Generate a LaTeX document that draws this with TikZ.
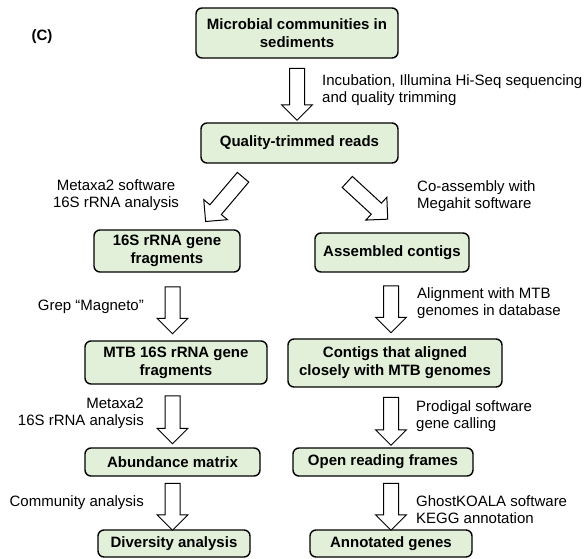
\documentclass[tikz,border=0pt]{standalone}
\usepackage{fontspec}
\setmainfont{Liberation Sans}
\usetikzlibrary{shapes.arrows,calc}
\definecolor{boxgreen}{HTML}{E2EFD9}
\tikzset{
  stepbox/.style={draw=black, line width=1.4pt, rounded corners=6pt, fill=boxgreen,
    align=center, inner sep=2pt, font=\fontsize{15}{18}\selectfont\bfseries},
  blockarrow/.style={single arrow, draw=black, line width=1pt, fill=white,
    inner xsep=0pt, inner ysep=7pt, single arrow head extend=8pt,
    minimum height=#1, sloped, allow upside down},
  steplabel/.style={inner sep=0pt, font=\fontsize{15}{17}\selectfont}
}
\begin{document}
\begin{tikzpicture}[x=1pt,y=-1pt]
      \useasboundingbox (0,0) rectangle (587,558);
      \node[inner sep=0pt, font=\fontsize{15}{18}\selectfont\bfseries] (panel) at (42,37) {(C)};
      % boxes
      \node[stepbox, minimum width=202pt, minimum height=50pt] (microbes) at (297,33) {Microbial communities in\\sediments};
      \node[stepbox, minimum width=197pt, minimum height=40pt] (reads) at (299.5,143) {Quality-trimmed reads};
      \node[stepbox, minimum width=146pt, minimum height=42pt] (frag) at (167,251) {16S rRNA gene\\fragments};
      \node[stepbox, minimum width=154pt, minimum height=39pt] (contigs) at (392,252.5) {Assembled contigs};
      \node[stepbox, minimum width=182pt, minimum height=43pt] (mtbfrag) at (176,362.5) {MTB 16S rRNA gene\\fragments};
      \node[stepbox, minimum width=214pt, minimum height=48pt] (aligned) at (395,363) {Contigs that aligned\\closely with MTB genomes};
      \node[stepbox, minimum width=175pt, minimum height=28pt] (abund) at (172.5,462) {Abundance matrix};
      \node[stepbox, minimum width=180pt, minimum height=28pt] (orf) at (383,462) {Open reading frames};
      \node[stepbox, minimum width=152pt, minimum height=27pt] (diversity) at (174,543.5) {Diversity analysis};
      \node[stepbox, minimum width=162pt, minimum height=27pt] (annot) at (391,543.5) {Annotated genes};
      % hollow arrows
      \path (microbes.south) -- node[blockarrow=52pt] (arr1) {} (microbes.south |- reads.north);
      \path ($(reads.south)+(-45,0)$) -- node[blockarrow=58pt] (arr2) {} ($(frag.north)+(32,0)$);
      \path ($(reads.south)+(28,0)$) -- node[blockarrow=55pt] (arr3) {} ($(contigs.north)+(10,0)$);
      \path (frag.south -| abund) -- node[blockarrow=47pt] (arr4) {} (mtbfrag.north -| abund);
      \path (mtbfrag.south -| abund) -- node[blockarrow=48pt] (arr5) {} (abund.north);
      \path (abund.south) -- node[blockarrow=47pt] (arr6) {} (abund.south |- diversity.north);
      \path (contigs.south -| annot) -- node[blockarrow=47pt] (arr7) {} (aligned.north -| annot);
      \path (aligned.south -| annot) -- node[blockarrow=48pt] (arr8) {} (orf.north -| annot);
      \path (orf.south -| annot) -- node[blockarrow=47pt] (arr9) {} (annot.north);
      % labels
      \node[steplabel, anchor=west, align=left] (incub) at (322,90) {Incubation, Illumina Hi-Seq sequencing\\and quality trimming};
      \node[steplabel, align=center] (metaxa) at (116,195) {Metaxa2 software\\16S rRNA analysis};
      \node[steplabel, anchor=west, align=left] (coasm) at (417,196) {Co-assembly with\\Megahit software};
      \node[steplabel, anchor=east] (grep) at (144,307) {Grep “Magneto”};
      \node[steplabel, anchor=west, align=left] (alignmtb) at (417,303) {Alignment with MTB\\genomes in database};
      \node[steplabel, anchor=east, align=right] (metaxb) at (144,413) {Metaxa2\\16S rRNA analysis};
      \node[steplabel, anchor=west, align=left] (prodigal) at (416,416) {Prodigal software\\gene calling};
      \node[steplabel, anchor=east] (community) at (144,503) {Community analysis};
      \node[steplabel, anchor=west, align=left] (ghost) at (416,510) {GhostKOALA software\\KEGG annotation};
\end{tikzpicture}
\end{document}
